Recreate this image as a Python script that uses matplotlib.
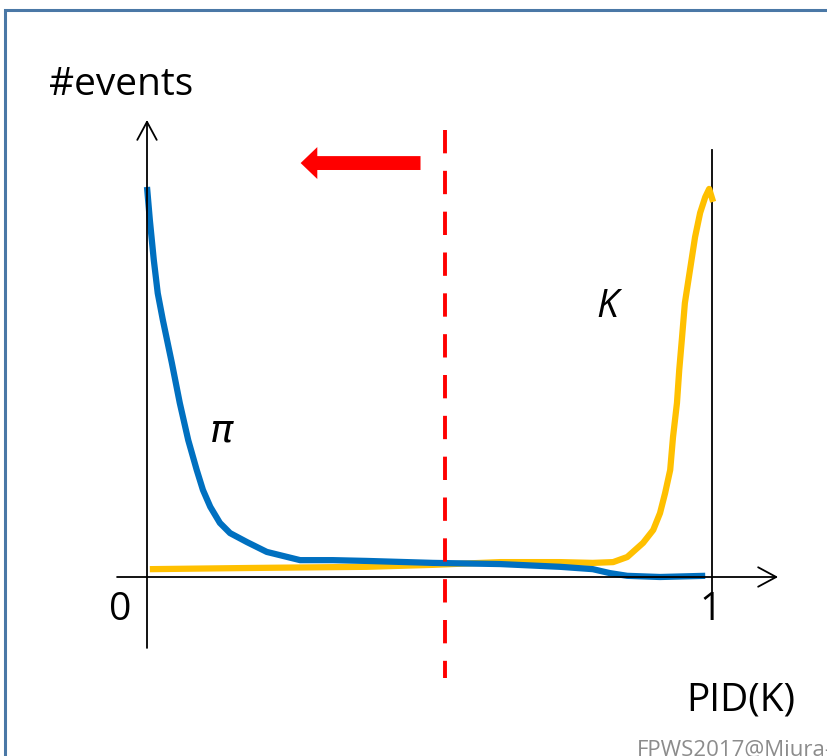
import numpy as np
import matplotlib.pyplot as plt
from matplotlib.patches import Rectangle, FancyArrowPatch

plt.rcParams['font.family'] = ['Open Sans', 'DejaVu Sans']

# PID(K) value (0..1) and #events (arbitrary units, peak ~1)
pid_pi = [0.0, 0.005, 0.012, 0.019, 0.028, 0.044, 0.058, 0.073, 0.088, 0.099,
          0.112, 0.129, 0.147, 0.177, 0.212, 0.271, 0.329, 0.389, 0.506, 0.625,
          0.731, 0.789, 0.819, 0.850, 0.908, 0.988]
events_pi = [0.995, 0.911, 0.809, 0.724, 0.656, 0.546, 0.444, 0.349, 0.273, 0.222,
             0.179, 0.138, 0.112, 0.089, 0.064, 0.043, 0.043, 0.041, 0.036, 0.033,
             0.026, 0.020, 0.010, 0.003, 0.0, 0.003]

pid_k = [0.005, 0.182, 0.389, 0.506, 0.625, 0.731, 0.789, 0.825, 0.850, 0.878,
         0.896, 0.908, 0.917, 0.926, 0.931, 0.938, 0.942, 0.947, 0.952, 0.961,
         0.970, 0.979, 0.988, 0.995, 1.002]
events_k = [0.020, 0.023, 0.026, 0.031, 0.038, 0.038, 0.036, 0.038, 0.051, 0.087,
            0.120, 0.163, 0.214, 0.273, 0.357, 0.444, 0.528, 0.612, 0.699, 0.783,
            0.867, 0.929, 0.969, 0.990, 0.957]

cut = 0.527

fig = plt.figure(figsize=(8.27, 7.56), dpi=100)
ax = fig.add_axes([147/827, 1 - 577/756, 565/827, 392/756])
ax.set_xlim(0, 1)
ax.set_ylim(0, 1)
ax.axis('off')

# slide frame
fig.add_artist(Rectangle((4.5/827, -0.1), 2.0, 1.1 - 9.5/756, transform=fig.transFigure,
                         fill=False, edgecolor='#4a78a6', linewidth=2.2))

# axes with arrows
ax.annotate('', xy=(0, 1.166), xytext=(0, -0.181), annotation_clip=False,
            arrowprops=dict(arrowstyle='->,head_length=13,head_width=7', mutation_scale=1,
                            color='black', lw=1.3, shrinkA=0, shrinkB=0))
ax.annotate('', xy=(1.117, 0), xytext=(-0.053, 0), annotation_clip=False,
            arrowprops=dict(arrowstyle='->,head_length=13,head_width=7', mutation_scale=1,
                            color='black', lw=1.3, shrinkA=0, shrinkB=0))
ax.plot([1, 1], [1.089, -0.059], color='black', lw=1.3, clip_on=False)

ax.plot(pid_k, events_k, color='#FFC000', lw=4.5, clip_on=False,
        solid_capstyle='butt', solid_joinstyle='round')
ax.plot(pid_pi, events_pi, color='#0070C0', lw=4.5, clip_on=False,
        solid_capstyle='butt', solid_joinstyle='round')

ax.plot([cut, cut], [1.14, -0.258], color='#FF0000', lw=2.8, clip_on=False,
        dashes=(6, 4.5))

arrow = FancyArrowPatch((0.489, 1.056), (0.267, 1.056), mutation_scale=1,
                        arrowstyle='simple,head_length=12,head_width=23,tail_width=10',
                        color='#FF0000', lw=0, clip_on=False)
ax.add_patch(arrow)

fs = 28
ax.text(-0.046, 1.256, '#events', fontsize=fs, ha='center', va='center')
ax.text(-0.048, -0.084, '0', fontsize=fs, ha='center', va='center')
ax.text(0.998, -0.084, '1', fontsize=fs, ha='center', va='center')
ax.text(0.133, 0.37, r'$\pi$', fontsize=fs, ha='center', va='center')
ax.text(0.814, 0.689, 'K', fontsize=fs, style='italic', ha='center', va='center')
ax.text(1.147, -0.314, 'PID(K)', fontsize=fs, ha='right', va='center')
ax.text(0.867, -0.442, 'FPWS2017@Miura-', fontsize=16, color='#8c8c8c',
        ha='left', va='center')

fig.savefig('out.png', dpi=100)
